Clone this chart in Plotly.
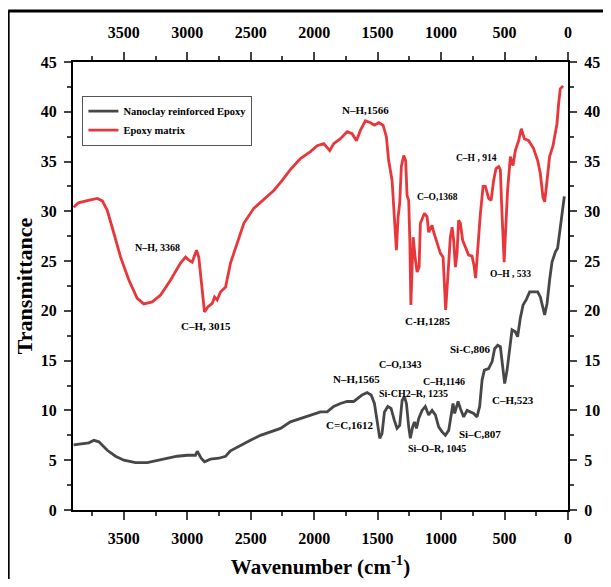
import plotly.graph_objects as go

# Epoxy matrix (red) - wavenumber (cm-1) and transmittance
wn_epoxy = [3895, 3858, 3779, 3708, 3669, 3630, 3578, 3525, 3460, 3394, 3342, 3276, 3210, 3131,
            3053, 3013, 2987, 2961, 2927, 2909, 2882, 2864, 2838, 2803, 2785, 2764, 2738, 2698,
            2659, 2606, 2554, 2476, 2397, 2318, 2252, 2180, 2108, 2029, 1976, 1924, 1877, 1846,
            1793, 1740, 1701, 1667, 1635, 1596, 1557, 1525, 1491, 1457, 1431, 1413, 1386, 1365,
            1352, 1339, 1326, 1313, 1294, 1279, 1268, 1255, 1246, 1238, 1228, 1220, 1202, 1189,
            1173, 1163, 1131, 1110, 1098, 1071, 1058, 1031, 1006, 984, 972, 964, 955, 940, 927,
            913, 901, 887, 874, 862, 848, 830, 809, 783, 756, 740, 728, 711, 690, 669, 651, 625,
            606, 586, 567, 546, 533, 520, 510, 503, 494, 476, 454, 433, 415, 389, 368, 344, 310,
            271, 239, 218, 197, 184, 165, 145, 118, 100, 87, 74, 61, 39]
t_epoxy = [30.4, 30.85, 31.1, 31.3, 31.05, 30.1, 27.8, 25.4, 23.1, 21.25, 20.7, 20.9, 21.6, 23.1,
           24.8, 25.4, 25.1, 24.9, 26.1, 25.4, 22.1, 19.9, 20.4, 20.75, 21.4, 21.1, 21.9, 22.4,
           24.8, 26.9, 28.8, 30.3, 31.2, 32.1, 33.1, 34.3, 35.3, 36.0, 36.6, 36.8, 36.1, 36.8,
           37.3, 38.0, 37.8, 37.1, 38.15, 39.1, 38.9, 38.65, 38.9, 38.65, 37.5, 35.1, 33.1, 29.1,
           26.1, 29.4, 30.8, 34.5, 35.6, 35.1, 31.6, 31.1, 27.0, 20.6, 25.1, 27.4, 25.1, 23.9,
           24.4, 28.8, 29.8, 29.45, 27.9, 28.6, 27.9, 26.8, 25.8, 25.4, 22.5, 20.1, 21.8, 25.1, 27.4,
           28.4, 27.1, 24.4, 25.8, 29.1, 28.8, 27.1, 26.4, 25.6, 25.5, 24.5, 23.3, 26.4, 29.8, 32.5, 32.5, 31.3,
           31.1, 33.1, 34.3, 34.5, 34.2, 29.8, 25.8, 24.9, 27.4, 32.1, 35.5, 34.6, 36.1, 37.1, 38.3, 37.3, 37.1,
           36.3, 35.1, 33.8, 31.4, 30.95, 33.1, 35.5, 36.6, 38.0, 38.8, 40.8, 42.3, 42.6]

# Nanoclay reinforced epoxy (dark grey)
wn_nano = [3895, 3866, 3814, 3775, 3735, 3696, 3630, 3565, 3499, 3407, 3315, 3236, 3157, 3079,
           3000, 2935, 2921, 2890, 2864, 2817, 2751, 2698, 2659, 2580, 2502, 2423, 2344, 2265,
           2187, 2108, 2029, 1950, 1898, 1846, 1793, 1740, 1688, 1661, 1622, 1583, 1551, 1525,
           1504, 1483, 1465, 1446, 1420, 1394, 1368, 1347, 1326, 1307, 1289, 1273, 1255, 1242,
           1224, 1210, 1194, 1176, 1150, 1124, 1098, 1071, 1045, 1019, 992, 966, 940, 921, 906,
           893, 880, 866, 848, 822, 795, 769, 743, 717, 696, 677, 659, 625, 598, 578, 554, 533,
           515, 499, 480, 460, 441, 415, 397, 376, 354, 328, 302, 271, 239, 218, 197, 184, 165,
           153, 145, 126, 100, 82, 66, 47, 29]
t_nano = [6.55, 6.6, 6.75, 6.75, 7.0, 6.85, 6.0, 5.4, 5.0, 4.75, 4.75, 4.95, 5.2, 5.4,
          5.5, 5.5, 5.9, 5.2, 4.85, 5.1, 5.2, 5.4, 5.95, 6.5, 7.0, 7.5, 7.85, 8.2,
          8.85, 9.2, 9.55, 9.85, 9.85, 10.4, 10.7, 10.9, 10.9, 11.2, 11.55, 11.8, 11.55, 10.7,
          8.7, 7.2, 7.7, 9.85, 10.4, 10.2, 9.0, 8.2, 8.5, 11.0, 11.4, 10.7, 8.35, 7.2,
          8.35, 8.85, 8.2, 9.2, 10.0, 10.4, 9.55, 10.0, 9.55, 8.35, 7.85, 7.5, 8.0, 9.7, 10.7,
          9.7, 10.4, 10.9, 10.2, 9.35, 10.0, 9.85, 9.7, 9.35, 10.4, 13.05, 14.05, 14.2, 14.9, 16.2, 16.55, 16.4,
          14.7, 12.7, 14.05, 16.05, 18.1, 17.9, 17.4, 19.25, 20.6, 21.15, 21.9, 21.9, 21.9, 21.4, 20.1, 19.6, 20.75,
          22.4, 23.1, 24.9, 25.9, 26.3, 27.8, 30.1, 31.5]

# peak labels
ann_text = ["N–H, 3368", "C–H, 3015", "N–H,1566", "C–O,1368", "C–H , 914", "O–H , 533",
            "C-H,1285", "Si-C,806", "C–O,1343", "N–H,1565", "C–H,1146", "Si-CH2–R, 1235",
            "C–H,523", "C=C,1612", "Si–C,807", "Si–O–R, 1045"]
ann_wn = [3233, 2856, 1596, 1031, 724, 454, 1110, 769, 1320, 1667, 975, 1215, 433, 1720, 696, 1031]
ann_t = [26.4, 18.5, 40.2, 31.4, 35.4, 23.7, 19.0, 16.2, 14.65, 13.2, 12.95, 11.7, 11.0, 8.55, 7.6, 6.2]
ann_size = [10, 11, 11, 9.5, 9.5, 9.5, 11, 11, 10, 11, 10, 10, 11, 11, 11, 10]

x_ticks = [3500, 3000, 2500, 2000, 1500, 1000, 500, 0]
y_ticks = [0, 5, 10, 15, 20, 25, 30, 35, 40, 45]

SERIF = "Liberation Serif"

fig = go.Figure()
fig.add_trace(go.Scatter(x=wn_nano, y=t_nano, mode="lines", name="Nanoclay reinforced Epoxy",
                         line=dict(color="#474747", width=2.8)))
fig.add_trace(go.Scatter(x=wn_epoxy, y=t_epoxy, mode="lines", name="Epoxy matrix",
                         line=dict(color="#e8363a", width=2.8)))
# empty trace so the top/right axes get drawn
fig.add_trace(go.Scatter(x=[], y=[], xaxis="x2", yaxis="y2", showlegend=False))

for txt, xv, yv, sz in zip(ann_text, ann_wn, ann_t, ann_size):
    fig.add_annotation(x=xv, y=yv, text=txt, showarrow=False,
                       font=dict(family=SERIF, size=sz, color="black", weight="bold"))

tick_font = dict(family=SERIF, size=16, color="black", weight="bold")
xcommon = dict(range=[3900, 0], tickvals=x_ticks, ticks="outside", ticklen=8, tickwidth=1.5,
               showline=True, linecolor="black", linewidth=2, showgrid=False, zeroline=False,
               tickfont=tick_font, automargin=False,
               minor=dict(dtick=250, tick0=0, ticks="outside", ticklen=4, tickwidth=1.5))
ycommon = dict(range=[0, 45], tickvals=y_ticks, ticks="outside", ticklen=7, tickwidth=1.5,
               showline=True, linecolor="black", linewidth=2, showgrid=False, zeroline=False,
               tickfont=tick_font, ticklabelstandoff=4, automargin=False,
               minor=dict(dtick=2.5, tick0=0, ticks="outside", ticklen=4, tickwidth=1.5))

# the page body adds an 8px margin all round, so keep the figure inside the window
fig.update_layout(
    width=595, height=571,
    margin=dict(l=65, r=35, t=54, b=69),
    paper_bgcolor="white", plot_bgcolor="white",
    xaxis=dict(**xcommon, ticklabelstandoff=5,
               title=dict(text="Wavenumber (cm<sup>-1</sup>)", standoff=16,
                          font=dict(family=SERIF, size=21, color="black", weight="bold"))),
    xaxis2=dict(**xcommon, ticklabelstandoff=8, overlaying="x", side="top"),
    yaxis=dict(**ycommon, title=dict(text="Transmittance", standoff=2,
                                     font=dict(family=SERIF, size=22, color="black", weight="bold"))),
    yaxis2=dict(**ycommon, overlaying="y", side="right"),
    legend=dict(x=0.019, y=0.925, xanchor="left", yanchor="top", bgcolor="white",
                bordercolor="#555555", borderwidth=1, tracegroupgap=0,
                font=dict(family=SERIF, size=10.5, color="black", weight="bold")),
    showlegend=True,
)

# outer frame of the figure: only its top and left edges are in view
frame = dict(type="line", xref="paper", yref="paper", line=dict(color="black", width=3), layer="below")
fig.add_shape(**frame, x0=-0.131, y0=-0.2, x1=-0.131, y1=1.114)
fig.add_shape(**frame, x0=-0.131, y0=1.114, x1=1.2, y1=1.114)

fig.write_html("out.html")
